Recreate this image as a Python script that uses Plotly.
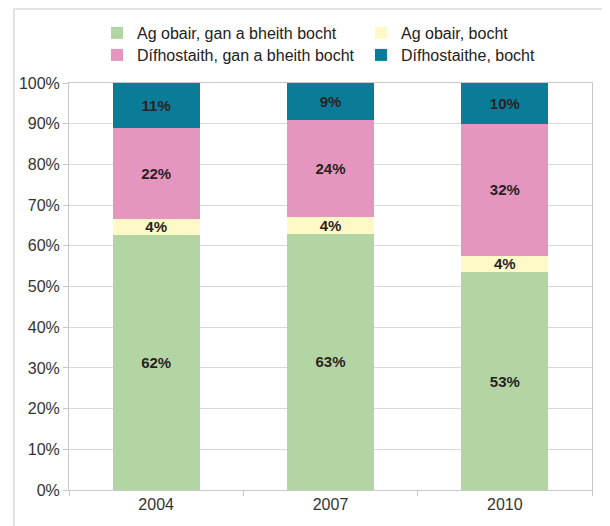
import plotly.graph_objects as go

years = ["2004", "2007", "2010"]
series_names = [
    "Ag obair, gan a bheith bocht",
    "Ag obair, bocht",
    "Dífhostaith, gan a bheith bocht",
    "Dífhostaithe, bocht",
]
working_not_poor = [62, 63, 53]
working_poor = [4, 4, 4]
unemployed_not_poor = [22, 24, 32]
unemployed_poor = [11, 9, 10]
colors = ["#b3d5a4", "#fff9c8", "#e596bf", "#0b7c98"]

values = [working_not_poor, working_poor, unemployed_not_poor, unemployed_poor]
legend_ids = ["legend", "legend", "legend2", "legend2"]
legend_widths = [219, 140, 219, 160]

fig = go.Figure()
for name, vals, col, lg, lw in zip(series_names, values, colors, legend_ids, legend_widths):
    fig.add_trace(go.Bar(
        x=years, y=vals, name=name,
        marker=dict(color=col, line=dict(width=0)),
        text=[f"{v}%" for v in vals],
        texttemplate="%{text}",
        textposition="inside",
        insidetextanchor="middle",
        constraintext="none",
        textfont=dict(family="Liberation Sans, Arial", size=15, color="#2b1f22", weight="bold"),
        width=0.5,
        legend=lg,
        legendwidth=lw,
    ))

# page offset (body margin) of 8px
OFF = 8
W, H = 602, 518
L, R, T, B = 61, 18, 75, 36
pw, ph = W - L - R, H - T - B

def px_x(x):
    return (x - OFF - L) / pw

def px_y(y):
    return (H - B - (y - OFF)) / ph

legend_common = dict(
    orientation="h", xref="container", yref="container",
    xanchor="left", yanchor="middle", traceorder="normal",
    font=dict(size=16, color="#222222"), itemwidth=30,
    bgcolor="rgba(0,0,0,0)",
)

fig.update_layout(
    width=W, height=H,
    barmode="stack", barnorm="percent",
    margin=dict(l=L, r=R, t=T, b=B, autoexpand=False),
    paper_bgcolor="white", plot_bgcolor="white",
    font=dict(family="Liberation Sans, Arial", size=16, color="#333333"),
    uniformtext=dict(minsize=15, mode="show"),
    legend=dict(x=(97 - OFF) / W, y=1 - (33 - OFF) / H, **legend_common),
    legend2=dict(x=(97 - OFF) / W, y=1 - (55 - OFF) / H, **legend_common),
    shapes=[dict(
        type="rect", xref="paper", yref="paper",
        x0=px_x(14), x1=px_x(608), y0=px_y(540), y1=px_y(9),
        line=dict(color="#d9d9d9", width=1.5), layer="below",
    )],
)
fig.update_xaxes(
    showline=True, linecolor="#c8c8c8", mirror=True,
    ticks="outside", tickson="boundaries", ticklen=5, tickcolor="#c8c8c8",
    tickfont=dict(size=16, color="#333333"),
)
fig.update_yaxes(
    range=[0, 100], dtick=10, ticksuffix="%",
    showgrid=True, gridcolor="#d9d9d9",
    showline=True, linecolor="#c8c8c8", mirror=True,
    ticks="outside", ticklen=5, tickcolor="#c8c8c8",
    tickfont=dict(size=16, color="#333333"),
)
fig.write_html("out.html")
